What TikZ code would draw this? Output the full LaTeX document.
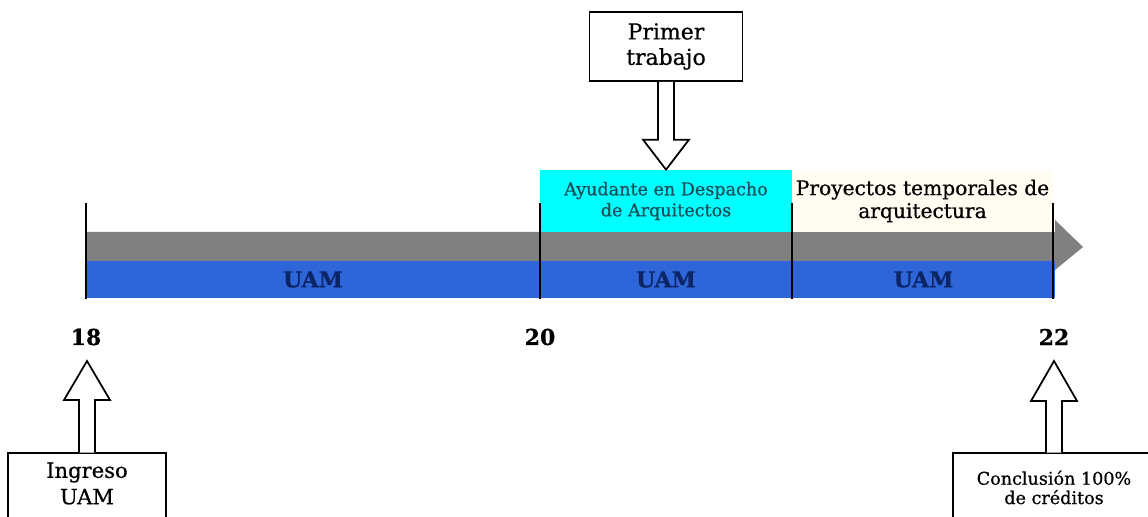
\documentclass[tikz,border=0pt]{standalone}
\usepackage{fontspec}
\setmainfont{DejaVu Serif}[FakeBold=0.6]
\usetikzlibrary{positioning,calc}
\definecolor{band}{HTML}{808080}
\definecolor{uamblue}{HTML}{2E65D8}
\definecolor{navy}{HTML}{0B2566}
\definecolor{cyanbox}{HTML}{00FFFF}
\definecolor{tealtext}{HTML}{1A4F58}
\definecolor{cream}{HTML}{FFFDF2}

% hollow block arrow: from, to, head length
\newcommand{\blockarrow}[3]{%
  \coordinate (hb) at ($(#2)!#3!(#1)$);
  \draw[blk] ($(#1)!0.16cm!90:(#2)$) -- ($(hb)!0.16cm!90:(#2)$) -- ($(hb)!0.46cm!90:(#2)$)
    -- (#2) -- ($(hb)!0.46cm!-90:(#2)$) -- ($(hb)!0.16cm!-90:(#2)$) -- ($(#1)!0.16cm!-90:(#2)$);}

\begin{document}
\begin{tikzpicture}[seg/.style={fill=uamblue,minimum height=7.4mm,inner sep=0pt,text=navy,font=\fontsize{12.5}{14}\selectfont\bfseries},
  yr/.style={font=\fontsize{12.5}{14}\selectfont\bfseries,inner sep=0pt},
  callbox/.style={draw,line width=1pt,fill=white,align=center,inner sep=2pt},
  blk/.style={draw,line width=1pt,fill=white,line join=miter},
  tick/.style={line width=0.9pt}]
\useasboundingbox (0,0) rectangle (22.96,10.34);
\clip (0,0) rectangle (22.96,10.34);
% timeline
\fill[band] (1.72,5.12) -- (1.72,5.70) -- (21.10,5.70) -- (21.10,5.94) -- (21.66,5.40) -- (21.10,4.94) -- (21.10,5.12) -- cycle;
\node[seg,minimum width=9.08cm] (uam1) at (6.26,4.75) {UAM};
\node[seg,minimum width=5.04cm] (uam2) at (13.32,4.75) {UAM};
\node[seg,minimum width=5.26cm] (uam3) at (18.47,4.75) {UAM};
\node[fill=cyanbox,minimum width=5.04cm,minimum height=1.24cm,inner sep=0pt,align=center,text=tealtext,
  font=\fontsize{10}{12}\selectfont] (ayud) at (13.32,6.32) {Ayudante en Despacho\\de Arquitectos};
\node[fill=cream,minimum width=5.22cm,minimum height=1.24cm,inner sep=0pt,align=center,
  font=\fontsize{11.5}{13}\selectfont] (proy) at (18.45,6.32) {Proyectos temporales de\\arquitectura};
\foreach \x in {1.72,10.80,15.84,21.06} \draw[tick] (\x,4.36) -- (\x,6.28);
% years
\node[yr] (n18) at (1.72,3.60) {18};
\node[yr] (n20) at (10.80,3.60) {20};
\node[yr] (n22) at (21.08,3.60) {22};
\coordinate (t18) at (1.74,3.12);
\coordinate (t22) at (21.08,3.12);
% callouts
\node[callbox,minimum width=3.06cm,minimum height=1.38cm,font=\fontsize{12.5}{14.5}\selectfont] (trabajo) at (13.32,9.41) {Primer\\trabajo};
\blockarrow{trabajo.south}{ayud.north}{0.6cm}
\node[align=center,minimum width=3.14cm,minimum height=1.22cm,inner sep=0pt,font=\fontsize{12}{15}\selectfont] (ingreso) at (1.74,0.67) {Ingreso\\UAM};
\draw[line width=1pt] ($(ingreso.south west)+(0,-0.5)$) |- (ingreso.north) -| ($(ingreso.south east)+(0,-0.5)$);
\blockarrow{ingreso.north}{t18}{0.78cm}
\node[align=center,minimum width=4.04cm,minimum height=1.38cm,inner sep=0pt,font=\fontsize{10}{11}\selectfont] (concl) at (21.08,0.59) {Conclusión 100\%\\de créditos};
\draw[line width=1pt] ($(concl.south west)+(0,-0.5)$) |- (concl.north) -| ($(concl.south east)+(0,-0.5)$);
\blockarrow{concl.north}{t22}{0.8cm}
\end{tikzpicture}
\end{document}
